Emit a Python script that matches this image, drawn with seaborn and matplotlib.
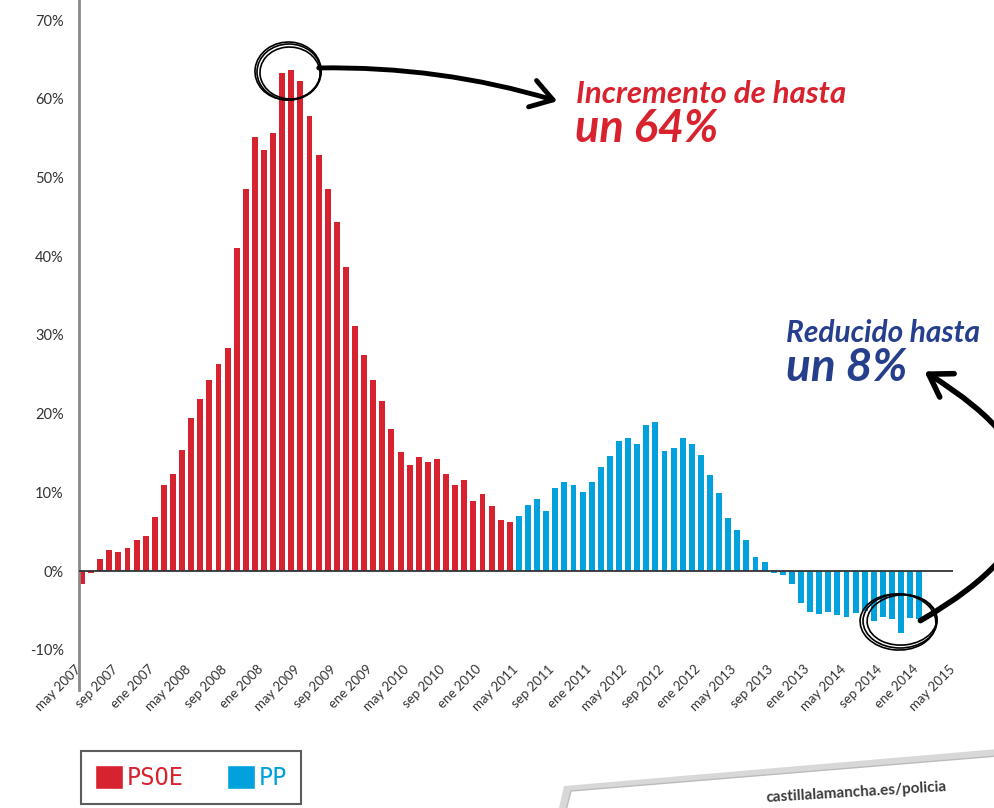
import matplotlib
matplotlib.use('Agg')
import matplotlib.pyplot as plt
import seaborn as sns
import pandas as pd
from matplotlib.patches import Ellipse, FancyArrowPatch, Patch, Polygon

# ---- data (monthly % variation, may 2007 -> ene 2015) ----
psoe = [-1.6, -0.3, 1.6, 2.7, 2.4, 2.9, 4.0, 4.4, 6.9, 11.0, 12.3, 15.4,
        19.4, 21.9, 24.3, 26.3, 28.3, 41.1, 48.5, 55.2, 53.5, 55.7, 63.3, 63.7,
        62.2, 57.8, 52.8, 48.5, 44.4, 38.6, 31.2, 27.4, 24.3, 21.6, 18.1, 15.1,
        13.5, 14.5, 13.9, 14.3, 12.4, 11.0, 11.6, 8.9, 9.8, 8.3, 6.5, 6.3]
pp = [7.0, 8.4, 9.2, 7.7, 10.6, 11.3, 11.0, 10.1, 11.3, 13.2, 14.6, 16.5,
      16.9, 16.1, 18.6, 19.0, 15.2, 15.6, 16.9, 16.1, 14.7, 12.2, 9.9, 6.7,
      5.2, 3.9, 1.8, 1.1, -0.2, -0.5, -1.6, -4.1, -5.2, -5.4, -5.2, -5.6,
      -5.8, -5.3, -5.1, -6.3, -5.8, -6.1, -7.9, -6.0, -6.1]
tick_labels = ['may 2007', 'sep 2007', 'ene 2007', 'may 2008', 'sep 2008', 'ene 2008',
               'may 2009', 'sep 2009', 'ene 2009', 'may 2010', 'sep 2010', 'ene 2010',
               'may 2011', 'sep 2011', 'ene 2011', 'may 2012', 'sep 2012', 'ene 2012',
               'may 2013', 'sep 2013', 'ene 2013', 'may 2014', 'sep 2014', 'ene 2014',
               'may 2015']
y_ticks = [-10, 0, 10, 20, 30, 40, 50, 60, 70]
meses = ['ene', 'feb', 'mar', 'abr', 'may', 'jun', 'jul', 'ago', 'sep', 'oct', 'nov', 'dic']
n = len(psoe) + len(pp)
periodo = [f"{meses[(4 + i) % 12]} {2007 + (4 + i) // 12}" for i in range(n)]
partido = ['PSOE'] * len(psoe) + ['PP'] * len(pp)

RED = '#d6232f'
BLUE = '#00a1dd'
TXT_RED = '#d8232e'
TXT_BLUE = '#263f8c'

df = pd.DataFrame({'periodo': periodo, 'valor': psoe + pp, 'partido': partido})

sns.set_theme(style='white')
plt.rcParams['font.family'] = ['Lato', 'DejaVu Sans']

W, H = 995, 808
fig = plt.figure(figsize=(W / 100, H / 100), dpi=100)
ax = fig.add_axes([79 / W, 1 - 690 / H, 874 / W, 690 / H])

sns.barplot(data=df, x='periodo', y='valor', hue='partido',
            palette={'PSOE': RED, 'PP': BLUE}, dodge=False, width=0.65,
            saturation=1, linewidth=0, legend=False, ax=ax)

ax.set_xlim(-0.33, 95.67)
ax.set_ylim(-15.1, 72.55)
ax.axhline(0, color='#333333', lw=1.3, zorder=5)

ax.set_xticks([4 * k - 0.3 for k in range(len(tick_labels))])
ax.set_xticklabels(tick_labels, rotation=45, ha='right', va='center',
                   rotation_mode='anchor', fontsize=9.5, color='#333333')
ax.tick_params(axis='x', length=0, pad=-16.5)

ax.set_yticks(y_ticks)
ax.set_yticklabels([f"{v}%" for v in y_ticks], fontsize=10.5, color='#333333')
ax.tick_params(axis='y', length=0, pad=11)

for s in ['top', 'right', 'bottom']:
    ax.spines[s].set_visible(False)
ax.spines['left'].set_color('#8a8a8a')
ax.spines['left'].set_linewidth(2)
ax.set_xlabel('')
ax.set_ylabel('')
ax.patch.set_alpha(0)


def fx(x):
    return x / W


def fy(y):
    return 1 - y / H


# ---- annotation texts ----
fig.text(fx(576), fy(103), 'Incremento de hasta', color=TXT_RED, fontsize=22.5,
         fontweight='bold', fontstyle='italic', va='baseline')
fig.text(fx(575), fy(142), 'un 64%', color=TXT_RED, fontsize=32.5,
         fontweight='bold', fontstyle='italic', va='baseline')
fig.text(fx(786), fy(342), 'Reducido hasta', color=TXT_BLUE, fontsize=21.5,
         fontweight='bold', fontstyle='italic', va='baseline')
fig.text(fx(786), fy(381), 'un 8%', color=TXT_BLUE, fontsize=33,
         fontweight='bold', fontstyle='italic', va='baseline')

# ---- hand-drawn circles ----
for (cx, cy, w, h, a) in [(289, 72, 64, 56, 0), (290, 73, 60, 52, 8), (288, 71, 66, 58, -6)]:
    fig.patches.append(Ellipse((fx(cx), fy(cy)), w / W, h / H, angle=a, fill=False,
                               ec='black', lw=1.2, transform=fig.transFigure))
for (cx, cy, w, h, a) in [(900, 621, 74, 54, 0), (902, 620, 70, 50, 10), (898, 622, 76, 56, -8)]:
    fig.patches.append(Ellipse((fx(cx), fy(cy)), w / W, h / H, angle=a, fill=False,
                               ec='black', lw=1.2, transform=fig.transFigure))

# ---- arrows ----
arr1 = FancyArrowPatch((fx(316), fy(68)), (fx(560), fy(102)),
                       connectionstyle='arc3,rad=-0.08',
                       arrowstyle='->,head_length=0.7,head_width=0.45',
                       mutation_scale=22, lw=3.5, color='black',
                       transform=fig.transFigure)
fig.patches.append(arr1)
arr2 = FancyArrowPatch((fx(918), fy(622)), (fx(922), fy(370)),
                       connectionstyle='arc3,rad=0.85',
                       arrowstyle='->,head_length=0.7,head_width=0.45',
                       mutation_scale=22, lw=4, color='black',
                       transform=fig.transFigure)
fig.patches.append(arr2)

# ---- card in bottom-right corner ----
shadow = Polygon([(fx(554), fy(830)), (fx(564), fy(786)), (fx(1010), fy(748)), (fx(1010), fy(830))],
                 closed=True, fc='#cfcfcf', ec='none', transform=fig.transFigure, alpha=0.8)
card = Polygon([(fx(561), fy(830)), (fx(571), fy(791)), (fx(1010), fy(755)), (fx(1010), fy(830))],
               closed=True, fc='white', ec='#bbbbbb', lw=1, transform=fig.transFigure)
fig.patches.append(shadow)
fig.patches.append(card)
fig.text(fx(766), fy(802), 'castillalamancha.es/policia', fontsize=11, fontweight='bold',
         color='#3a3a3a', rotation=3.5, va='baseline', ha='left')

# ---- legend ----
handles = [Patch(facecolor=RED, label='PSOE'), Patch(facecolor=BLUE, label='PP')]
leg = fig.legend(handles=handles, loc='upper left', bbox_to_anchor=(fx(81), fy(751)),
                 ncol=2, frameon=True, fancybox=False,
                 prop={'family': 'DejaVu Sans Mono', 'size': 17},
                 handlelength=1.2, handleheight=1.2, handletextpad=0.15,
                 columnspacing=1.8, borderpad=0.6, borderaxespad=0)
leg.get_frame().set_edgecolor('#333333')
leg.get_frame().set_linewidth(1.5)
for t, c in zip(leg.get_texts(), [RED, BLUE]):
    t.set_color(c)

fig.savefig('out.png', dpi=100)
